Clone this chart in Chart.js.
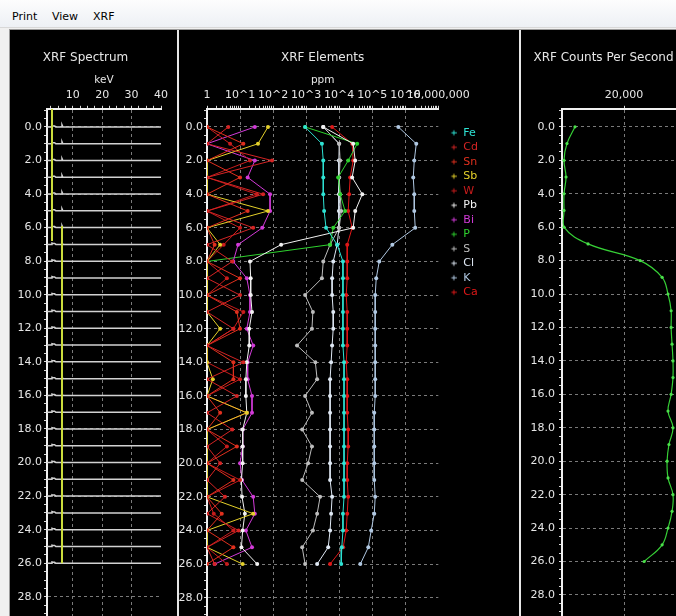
<!DOCTYPE html>
<html>
<head>
<meta charset="utf-8">
<title>XRF</title>
<script src="https://cdn.jsdelivr.net/npm/chart.js@4.4.1/dist/chart.umd.min.js"></script>
<style>
  html, body { margin: 0; padding: 0; }
  body { width: 676px; height: 616px; overflow: hidden; position: relative; background: #f0f0f0; font-family: "DejaVu Sans", sans-serif; }
  #menu { position: absolute; left: 0; top: 0; width: 676px; height: 27px; background: linear-gradient(#fdfdfd, #edf0f5); border-bottom: 1px solid #d8d8d8; font-size: 11px; color: #000; }
  #menu span { position: absolute; top: 10px; }
  #screen { position: absolute; left: 9px; top: 29px; width: 700px; height: 600px; background: #000; border-left: 1px solid #9a9a9a; border-top: 1px solid #9a9a9a; }
  .panel { position: absolute; top: 30px; }
  .sep { position: absolute; top: 30px; width: 2px; height: 600px; background: #e6e6e6; }
</style>
</head>
<body>
<div id="menu"><span style="left:12px">Print</span><span style="left:52px">View</span><span style="left:93px">XRF</span></div>
<div id="screen"></div>
<canvas id="spectrum" class="panel" width="168" height="612" style="left:10px"></canvas>
<canvas id="elements" class="panel" width="341" height="612" style="left:179px"></canvas>
<canvas id="cps" class="panel" width="172" height="612" style="left:521px"></canvas>
<div class="sep" style="left:177px"></div>
<div class="sep" style="left:519px"></div>
<script>
var FONT = '"DejaVu Sans", sans-serif';
var TXT = '#e6e6e6';
Chart.defaults.font.family = FONT;
Chart.defaults.color = TXT;
Chart.defaults.animation = false;

/* =====================
  data
===================== */

var depths = [0, 1, 2, 3, 4, 5, 6, 7, 8, 9, 10, 11, 12, 13, 14, 15, 16, 17, 18, 19, 20, 21, 22, 23, 24, 25, 26];
var depthTicks = [0, 2, 4, 6, 8, 10, 12, 14, 16, 18, 20, 22, 24, 26, 28];
var depthMin = -1.08, depthMax = 30.18;

// spectrum (keV)
var keVTicks = [10, 20, 30, 40];
var specKeV = [1.2, 2.6, 2.9, 3.3, 3.8, 4.2, 6.0, 6.3, 6.6, 40];
var specCounts = [0, 0, 0.08, 0.06, 0.06, 0, 0, 0.12, 0, 0];
var peakKeV = [2.9, 6.3];
var peakFrom = [-1.08, 5.9];
var peakTo = [6.8, 26];

// elements (ppm)
var ppmTicks = [1, 10, 100, 1000, 10000, 100000, 1000000, 10000000];
var ppmTickLabels = ['1', '10^1', '10^2', '10^3', '10^4', '10^5', '10^6', '10,000,000'];
var elements = ['Fe', 'Cd', 'Sn', 'Sb', 'W', 'Pb', 'Bi', 'P', 'S', 'Cl', 'K', 'Ca'];
var elemColors = ['#2ee3d4', '#d42424', '#e0301e', '#e4d02a', '#c81c1c', '#f2f2f2', '#d23ad8', '#2ed22e', '#bdbdbd', '#dfe8f4', '#b0c8e2', '#e01818'];

var fe = [930, 3000, 3300, 3300, 3300, 3500, 4000, 8700, 13000, 13000, 13000, 13000, 13000, 13000, 14000, 14000, 14000, 14000, 14000, 14000, 14000, 14000, 14000, 13000, 13000, 12000, 11500];
var cd = [4.4, 1, 93, 1, 50, 1, 25, 1, 5.8, 1, 10, 1, 6.3, 1, 12.6, 1, 8, 1, 5.8, 1, 2.5, 1, 3.5, 1, 9, 1, 1.7];
var sn = [1, 12.6, 1, 10, 1, 17, 1, 1.7, 1, 10, 1, 8, 10, 1, 6.3, 6.3, 1, 2.5, 1, 8, 1, 6.3, 1, 2.8, 1, 6.3, 1];
var sb = [70, 35, 1, 1, 1, 70, 1, 2.5, 1, 1, 1, 1, 2.5, 1, 1, 1.5, 1, 16, 1, 1, 1, 1, 1, 25, 1, 1, 12];
var w = [1, 5, 20, 1, 32, 1, 10, 3.2, 1, 4, 1, 12.6, 6.3, 1, 1, 10, 1, 16, 1, 4, 1, 10, 1, 1.6, 6.3, 1, 4];
var pb = [3300, 26500, 30500, 24700, 50000, 30500, 26500, 175, 20, 21, 21, 23, 19, 19, 16, 15, 15, 16, 12, 12, 12, 11, 11.5, 14, 12, 11, 33];
var bi = [28, 1, 28, 17, 81, 81, 47, 8.7, 6.2, 16, 20, 20, 16, 25, 17, 17, 23, 23, 12, 12, 10, 11.5, 25, 28, 15, 23, 1.7];
var p = [930, 35000, 18700, 9300, 10700, 15100, 6600, 5300, 1];
var s = [3300, 10000, 10700, 10000, 10700, 11500, 10000, 5300, 3300, 3000, 930, 1600, 1500, 530, 1900, 2150, 930, 1500, 760, 1500, 1150, 760, 2650, 2150, 1600, 760, 930];
var cl = [3300, 10000, 9800, 9800, 9800, 9800, 9800, 8700, 6600, 6100, 6100, 6600, 6600, 6100, 5700, 5300, 5300, 5300, 5300, 5300, 5300, 5300, 6100, 5700, 5300, 4650, 2150];
var k = [616000, 2150000, 1870000, 1740000, 1870000, 1870000, 2000000, 405000, 163000, 132000, 123000, 123000, 123000, 123000, 123000, 123000, 123000, 115000, 115000, 115000, 115000, 115000, 123000, 115000, 93000, 76000, 43500];
var ca = [6100, 24700, 26500, 21500, 20000, 18700, 24700, 17500, 17500, 17500, 16300, 17500, 17500, 17500, 16300, 17500, 17500, 17500, 18700, 18700, 17500, 17500, 18700, 17500, 16300, 13200, 5300];
var elemValues = [fe, cd, sn, sb, w, pb, bi, p, s, cl, k, ca];

// counts per second
var cpsTicks = [20000];
var cpsTickLabels = ['20,000'];
var cps = [4200, 1600, 650, 1300, 650, 650, 650, 8400, 25200, 32300, 34200, 35200, 35200, 35500, 35800, 35800, 35200, 34200, 35800, 34500, 33900, 34200, 35800, 35500, 34200, 32300, 26500];

/* =====================
  shared axes
===================== */

var minorDepth = [];
for (var v = -1; v <= 30; v += 0.5) minorDepth.push(v);

function isIn(list, c) {
  return c.tick && list.indexOf(c.tick.value) >= 0;
}

function depthAxis(width, pad) {
  return {
    type: 'linear', reverse: true, min: depthMin, max: depthMax,
    afterBuildTicks: function(sc) { sc.ticks = minorDepth.map(function(x) { return {value: x}; }); },
    afterFit: function(sc) { sc.width = width; },
    ticks: {
      color: TXT, font: {size: 11}, padding: pad, autoSkip: false, maxRotation: 0,
      callback: function(val) { return depthTicks.indexOf(val) >= 0 ? val.toFixed(1) : ''; }
    },
    grid: {
      color: function(c) { return isIn(depthTicks, c) ? '#7a7a7a' : 'rgba(0,0,0,0)'; },
      tickColor: '#d8d8d8', tickLength: 3, tickBorderDash: []
    },
    border: {color: '#f0f0f0', width: 2, dash: [3, 3]}
  };
}

function topAxis(o) {
  return {
    type: o.type, position: 'top', min: o.min, max: o.max,
    afterBuildTicks: function(sc) { sc.ticks = o.ticks.map(function(x) { return {value: x}; }); },
    afterFit: function(sc) { sc.height = o.height; },
    title: o.title ? {display: true, text: o.title, color: TXT, font: {size: 10.5}, padding: {top: 8.3, bottom: 0}} : {display: false},
    ticks: {
      color: TXT, font: {size: 11}, padding: 4.4, autoSkip: false, maxRotation: 0,
      callback: function(val) { var i = o.major.indexOf(val); return i >= 0 ? o.labels[i] : ''; }
    },
    grid: {
      color: function(c) { return isIn(o.grid, c) ? '#7a7a7a' : 'rgba(0,0,0,0)'; },
      tickColor: '#d8d8d8', tickLength: 3, tickBorderDash: []
    },
    border: {color: '#f0f0f0', width: 2, dash: [3, 3]}
  };
}

function chartTitle(text, full) {
  return {display: true, text: text, color: TXT, fullSize: full, font: {size: 12, weight: 'normal'}, padding: {top: 20.8, bottom: 0}};
}

/* =====================
  XRF Spectrum
===================== */

var keVMinor = [];
for (var kv = 2.5; kv <= 40; kv += 2.5) keVMinor.push(kv);

var specSets = [];
for (var pk = 0; pk < peakKeV.length; pk++) {
  specSets.push({
    data: [{x: peakKeV[pk], y: peakFrom[pk]}, {x: peakKeV[pk], y: peakTo[pk]}],
    borderColor: '#cbdc3c', borderWidth: 2, pointRadius: 0
  });
}
depths.forEach(function(d) {
  specSets.push({
    data: specKeV.map(function(e, i) { return {x: e, y: d - specCounts[i]}; }),
    borderColor: '#d2d2d2', borderWidth: 1.5, pointRadius: 0
  });
});

new Chart(document.getElementById('spectrum'), {
  type: 'line',
  data: {datasets: specSets},
  options: {
    responsive: false, devicePixelRatio: 1,
    layout: {padding: {left: 0, right: 17, top: 0, bottom: 0}},
    plugins: {legend: {display: false}, tooltip: {enabled: false}, title: chartTitle('XRF Spectrum', true)},
    scales: {
      x: topAxis({type: 'linear', min: 1.2, max: 40, ticks: keVMinor, major: keVTicks,
        labels: keVTicks.map(String), grid: [10, 20, 30], title: 'keV', height: 43.6}),
      y: depthAxis(37, 2)
    }
  }
});

/* =====================
  XRF Elements
===================== */

var ppmMinor = [];
ppmTicks.forEach(function(t, i) {
  ppmMinor.push(t);
  if (i < ppmTicks.length - 1) for (var m = 2; m < 10; m++) ppmMinor.push(t * m);
});

function legendMark(color) {
  var c = document.createElement('canvas');
  c.width = 16; c.height = 8;
  var g = c.getContext('2d');
  g.strokeStyle = color; g.fillStyle = color; g.lineWidth = 1;
  g.beginPath(); g.moveTo(9.5, 4); g.lineTo(15, 4); g.stroke();
  g.beginPath(); g.moveTo(12, 1.5); g.lineTo(12, 6.5); g.stroke();
  return c;
}

var elemSets = elements.map(function(name, i) {
  return {
    label: name,
    data: elemValues[i].map(function(val, j) { return {x: val, y: depths[j]}; }),
    borderColor: elemColors[i], backgroundColor: elemColors[i],
    borderWidth: 1, pointRadius: 2, pointBorderWidth: 0, pointBackgroundColor: elemColors[i]
  };
});

new Chart(document.getElementById('elements'), {
  type: 'line',
  data: {datasets: elemSets},
  options: {
    responsive: false, devicePixelRatio: 1,
    layout: {padding: {left: 0, right: 32, top: 0, bottom: 0}},
    plugins: {
      tooltip: {enabled: false},
      title: chartTitle('XRF Elements', false),
      legend: {
        position: 'right', align: 'start', fullSize: false,
        title: {display: true, text: '', font: {size: 12.5}},
        labels: {
          usePointStyle: true, pointStyleWidth: 16, padding: 3.5, font: {size: 11},
          generateLabels: function(ch) {
            return ch.data.datasets.map(function(ds, i) {
              return {text: ds.label, fontColor: elemColors[i], fillStyle: elemColors[i], strokeStyle: elemColors[i],
                lineWidth: 0, pointStyle: legendMark(elemColors[i]), datasetIndex: i, hidden: false};
            });
          }
        }
      }
    },
    scales: {
      x: topAxis({type: 'logarithmic', min: 1, max: 10000000, ticks: ppmMinor, major: ppmTicks,
        labels: ppmTickLabels, grid: ppmTicks.slice(1, 7), title: 'ppm', height: 43.6}),
      y: depthAxis(28, 1)
    }
  }
});

/* =====================
  XRF Counts Per Second
===================== */

new Chart(document.getElementById('cps'), {
  type: 'line',
  data: {datasets: [{
    data: cps.map(function(val, j) { return {x: val, y: depths[j]}; }),
    borderColor: '#36cf36', borderWidth: 1.2, tension: 0.4,
    pointRadius: 1.6, pointBorderWidth: 0, pointBackgroundColor: '#4be04b'
  }]},
  options: {
    responsive: false, devicePixelRatio: 1,
    layout: {padding: {left: 0, right: 7, top: 0, bottom: 0}},
    plugins: {legend: {display: false}, tooltip: {enabled: false}, title: chartTitle('XRF Counts Per Second', true)},
    scales: {
      x: topAxis({type: 'linear', min: 0, max: 40000, ticks: cpsTicks, major: cpsTicks,
        labels: cpsTickLabels, grid: cpsTicks, title: '', height: 43.6}),
      y: depthAxis(41, 4)
    }
  }
});
</script>
</body>
</html>
